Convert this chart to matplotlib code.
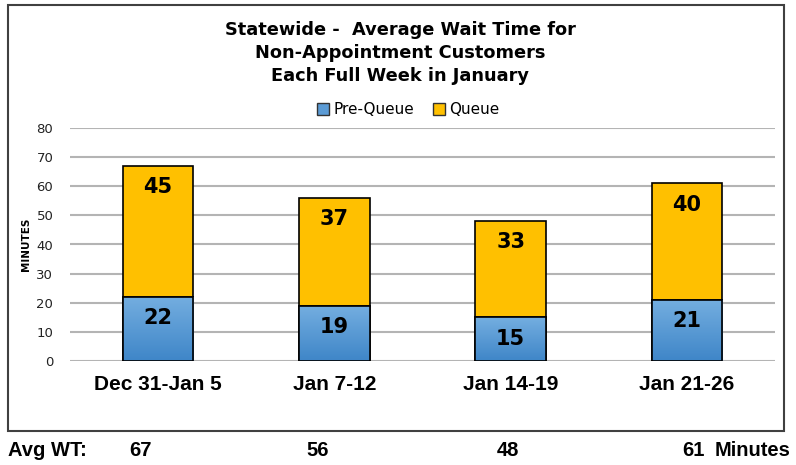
import matplotlib.pyplot as plt
import matplotlib.patches as mpatches
from matplotlib.colors import LinearSegmentedColormap
import numpy as np

# data
weeks = ["Dec 31-Jan 5", "Jan 7-12", "Jan 14-19", "Jan 21-26"]
pre_queue = [22, 19, 15, 21]
queue = [45, 37, 33, 40]
avg_wt = [67, 56, 48, 61]
yticks = [0, 10, 20, 30, 40, 50, 60, 70, 80]

blue = "#5b9bd5"
gold = "#ffc000"
nar = ["Liberation Sans", "DejaVu Sans"]

fig = plt.figure(figsize=(7.96, 4.65), dpi=100)

# outer chart border
border = mpatches.Rectangle((8/796, 1-431/465), 776/796, 426/465, transform=fig.transFigure,
                            fill=False, edgecolor="#404040", linewidth=1.5)
fig.patches.append(border)

ax = fig.add_axes([70/796, 1-361/465, 705/796, 233/465])
x = np.arange(len(weeks))

bars1 = ax.bar(x, pre_queue, width=0.4, color=blue, edgecolor="black", linewidth=1.2, zorder=3)
bars2 = ax.bar(x, queue, width=0.4, bottom=pre_queue, color=gold, edgecolor="black", linewidth=1.2, zorder=3)

# gradient on the blue bars
grad = np.linspace(0, 1, 100).reshape(-1, 1)
cmap = LinearSegmentedColormap.from_list("b", ["#3f86c8", "#74aee0"])
for b in bars1:
    x0, y0 = b.get_x(), b.get_y()
    im = ax.imshow(grad, extent=[x0, x0 + b.get_width(), y0, y0 + b.get_height()],
                   origin="lower", cmap=cmap, aspect="auto", zorder=3.5)
    im.set_clip_path(b)
    outline = mpatches.Rectangle((x0, y0), b.get_width(), b.get_height(), fill=False,
                                 edgecolor="black", linewidth=1.2, zorder=4)
    ax.add_patch(outline)

# labels sit a fixed distance below each segment top
for i in range(len(weeks)):
    ax.text(x[i], pre_queue[i] - 7.3, str(pre_queue[i]), ha="center", va="center",
            fontsize=15, fontweight="bold", zorder=5)
    ax.text(x[i], pre_queue[i] + queue[i] - 7.3, str(queue[i]), ha="center", va="center",
            fontsize=15, fontweight="bold", zorder=5)

ax.set_xlim(-0.5, 3.5)
ax.set_ylim(0, 80)
ax.set_yticks(yticks)
ax.set_yticklabels([str(v) for v in yticks], fontsize=9.5, color="#222222")
ax.set_xticks(x)
ax.set_xticklabels(weeks, fontsize=15, fontweight="bold", family=nar)
ax.tick_params(axis="both", length=0)
ax.tick_params(axis="x", pad=10)
ax.tick_params(axis="y", pad=12)
ax.grid(axis="y", color="#b4b4b4", linewidth=1.5)
ax.set_axisbelow(True)
for s in ax.spines.values():
    s.set_visible(False)
ax.set_ylabel("MINUTES", fontsize=7.5, fontweight="bold", labelpad=4)

# title and legend
for ty, line in zip([30, 53, 76], ["Statewide -  Average Wait Time for",
                                   "Non-Appointment Customers",
                                   "Each Full Week in January"]):
    fig.text(0.503, 1-ty/465, line, ha="center", va="center", fontsize=12.8, fontweight="bold")

handles = [mpatches.Patch(facecolor=blue, edgecolor="#333333", label="Pre-Queue"),
           mpatches.Patch(facecolor=gold, edgecolor="#333333", label="Queue")]
fig.legend(handles=handles, loc="center", bbox_to_anchor=(0.513, 1-110/465), ncol=2,
           frameon=False, fontsize=11, handlelength=0.8, handleheight=0.8,
           handletextpad=0.3, columnspacing=1.2)

# Avg WT row
ry = 1-450/465
fig.text(8/796, ry, "Avg WT:", ha="left", va="center", fontsize=14.5, fontweight="bold", family=nar)
for xp, v in zip([140, 318, 508, 693], avg_wt):
    fig.text(xp/796, ry, str(v), ha="center", va="center", fontsize=14.5, fontweight="bold", family=nar)
fig.text(791/796, ry, "Minutes", ha="right", va="center", fontsize=14.5, fontweight="bold", family=nar)

fig.savefig("out.png", dpi=100)
